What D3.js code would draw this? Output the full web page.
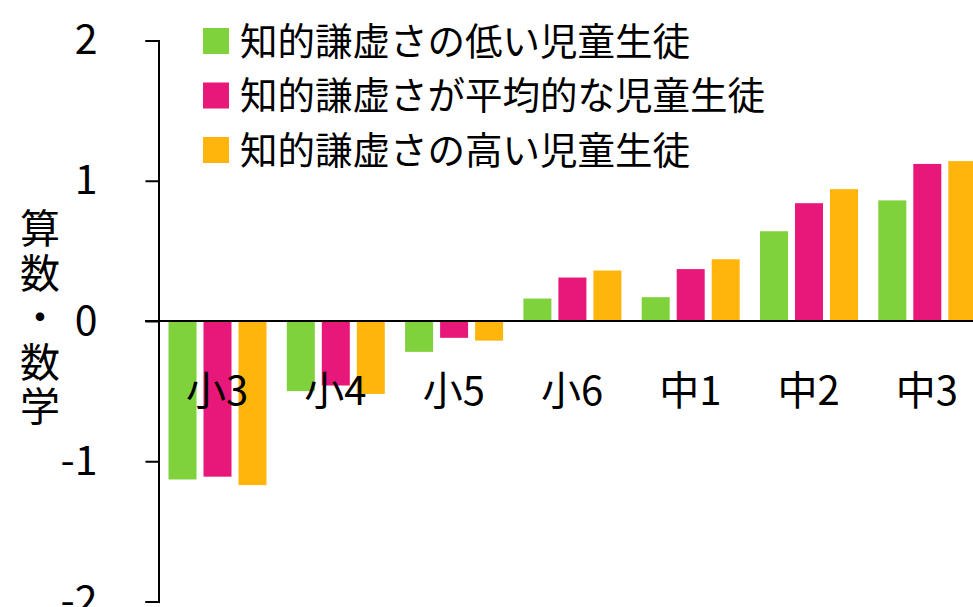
<!doctype html>
<html>
  <head>
    <meta charset="utf-8">
    <title>算数・数学</title>
    <script src="https://cdnjs.cloudflare.com/ajax/libs/d3/7.8.5/d3.min.js"></script>
    <style>
      body { margin: 0; background: #fff; }
      svg { display: block; font-family: "Noto Sans CJK JP", "Noto Sans", sans-serif; }
    </style>
  </head>
  <body>
    <div id="chart"></div>
    <script>
      // data
      const grades = ['小3', '小4', '小5', '小6', '中1', '中2', '中3'];
      const seriesNames = ['知的謙虚さの低い児童生徒', '知的謙虚さが平均的な児童生徒', '知的謙虚さの高い児童生徒'];
      const low  = [-1.13, -0.50, -0.22, 0.16, 0.17, 0.64, 0.86];
      const avg  = [-1.11, -0.46, -0.12, 0.31, 0.37, 0.84, 1.12];
      const high = [-1.17, -0.52, -0.14, 0.36, 0.44, 0.94, 1.14];
      const yTicks = [-2, -1, 0, 1, 2];
      const colors = ['#7fd23b', '#e8177a', '#ffb50b'];

      const W = 973, H = 607;
      const svg = d3.select('#chart').append('svg')
        .attr('width', W).attr('height', H);

      const y = d3.scaleLinear().domain([-2, 2]).range([601.5, 40.5]);
      const x0 = d3.scaleBand().domain(grades).range([158, 158 + 7 * 118.3]);
      const x1 = d3.scaleBand().domain([0, 1, 2]).range([10.5, 108.5])
        .paddingInner(0.2).paddingOuter(0);

      const rows = grades.map((g, i) => ({ g, vals: [low[i], avg[i], high[i]] }));

      // bars
      svg.append('g').selectAll('g')
        .data(rows)
        .join('g')
        .attr('transform', d => `translate(${x0(d.g)},0)`)
        .selectAll('rect')
        .data(d => d.vals.map((v, k) => ({ v, k })))
        .join('rect')
        .attr('x', d => x1(d.k))
        .attr('width', x1.bandwidth())
        .attr('y', d => y(Math.max(0, d.v)))
        .attr('height', d => Math.abs(y(d.v) - y(0)))
        .attr('fill', d => colors[d.k]);

      // y axis (plain hyphen for negatives, like the original)
      const yAxis = d3.axisLeft(y).tickValues(yTicks).tickSize(13).tickPadding(48)
        .tickFormat(d => String(d));
      const ga = svg.append('g').attr('transform', 'translate(158.5,0)').call(yAxis);
      ga.select('.domain').attr('stroke', '#000').attr('stroke-width', 2);
      ga.selectAll('.tick line').attr('stroke', '#000').attr('stroke-width', 2);
      ga.selectAll('.tick text').attr('font-size', 41).attr('fill', '#000')
        .attr('font-family', '"Noto Sans CJK JP", sans-serif');

      // zero line
      svg.append('line')
        .attr('x1', 145).attr('x2', W)
        .attr('y1', y(0)).attr('y2', y(0))
        .attr('stroke', '#000').attr('stroke-width', 2);

      // category labels (sit over the bars)
      svg.append('g').selectAll('text')
        .data(grades)
        .join('text')
        .attr('x', d => x0(d) + x0.bandwidth() / 2)
        .attr('y', 405)
        .attr('text-anchor', 'middle')
        .attr('font-size', 40)
        .text(d => d);

      // y title, stacked vertically
      const title = '算数・数学'.split('');
      svg.append('g').selectAll('text')
        .data(title)
        .join('text')
        .attr('x', 40)
        .attr('y', (d, i) => 243 + i * 44.5)
        .attr('text-anchor', 'middle')
        .attr('font-size', 40)
        .text(d => d);

      // legend
      const lg = svg.append('g').selectAll('g')
        .data(seriesNames)
        .join('g')
        .attr('transform', (d, i) => `translate(203,${28 + i * 54.5})`);
      lg.append('rect').attr('width', 26).attr('height', 26)
        .attr('fill', (d, i) => colors[i]);
      lg.append('text')
        .attr('x', 37).attr('y', 13)
        .attr('dy', '0.36em')
        .attr('font-size', 37.5)
        .text(d => d);
    </script>
  </body>
</html>
